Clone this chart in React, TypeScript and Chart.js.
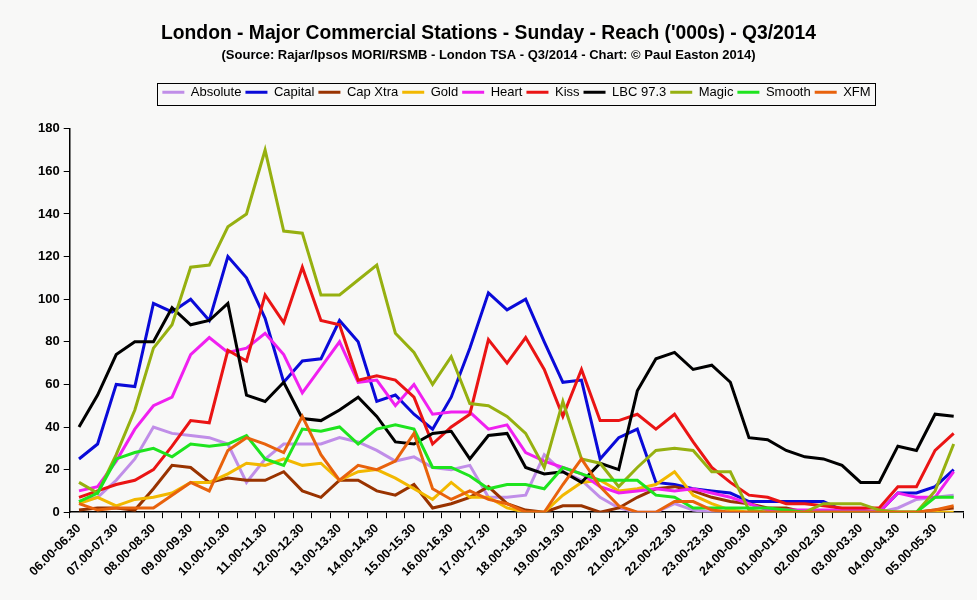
import { useEffect, useRef } from "react";
import { Chart, registerables } from "chart.js";

Chart.register(...registerables);

const slots = [
  "06.00-06.30", "06.30-07.00", "07.00-07.30", "07.30-08.00", "08.00-08.30", "08.30-09.00",
  "09.00-09.30", "09.30-10.00", "10.00-10.30", "10.30-11.00", "11.00-11.30", "11.30-12.00",
  "12.00-12.30", "12.30-13.00", "13.00-13.30", "13.30-14.00", "14.00-14.30", "14.30-15.00",
  "15.00-15.30", "15.30-16.00", "16.00-16.30", "16.30-17.00", "17.00-17.30", "17.30-18.00",
  "18.00-18.30", "18.30-19.00", "19.00-19.30", "19.30-20.00", "20.00-20.30", "20.30-21.00",
  "21.00-21.30", "21.30-22.00", "22.00-22.30", "22.30-23.00", "23.00-23.30", "23.30-24.00",
  "24.00-00.30", "00.30-01.00", "01.00-01.30", "01.30-02.00", "02.00-02.30", "02.30-03.00",
  "03.00-03.30", "03.30-04.00", "04.00-04.30", "04.30-05.00", "05.00-05.30", "05.30-06.00",
];

const absolute = [5, 7, 15, 25, 40, 37, 36, 35, 32, 14, 25, 32, 32, 32, 35, 33, 29, 24, 26, 21, 20, 22, 7, 7, 8, 27, 19, 15, 7, 2, 0, 0, 4, 1, 0, 0, 0, 0, 0, 0, 0, 0, 0, 0, 2, 6, 7, 8];
const capital = [25, 32, 60, 59, 98, 94, 100, 90, 120, 110, 91, 61, 71, 72, 90, 80, 52, 55, 46, 39, 54, 77, 103, 95, 100, 80, 61, 62, 25, 35, 39, 14, 13, 11, 10, 9, 5, 5, 5, 5, 5, 1, 0, 0, 9, 9, 12, 20];
const capXtra = [1, 2, 2, 1, 11, 22, 21, 14, 16, 15, 15, 19, 10, 7, 15, 15, 10, 8, 13, 2, 4, 7, 12, 4, 1, 0, 3, 3, 0, 2, 7, 11, 12, 10, 7, 5, 4, 2, 2, 0, 0, 0, 0, 0, 0, 0, 1, 2];
const gold = [4, 7, 3, 6, 7, 9, 14, 14, 18, 23, 22, 25, 22, 23, 15, 19, 20, 16, 11, 6, 14, 7, 7, 2, 0, 0, 8, 14, 15, 10, 11, 13, 19, 8, 4, 1, 0, 0, 0, 0, 0, 0, 0, 0, 0, 0, 0, 0];
const heart = [10, 12, 24, 39, 50, 54, 74, 82, 75, 77, 84, 74, 56, 68, 80, 61, 62, 50, 60, 46, 47, 47, 39, 41, 28, 24, 21, 18, 12, 9, 10, 11, 10, 11, 9, 7, 4, 1, 1, 1, 1, 1, 1, 0, 9, 7, 7, 19];
const kiss = [7, 10, 13, 15, 20, 31, 43, 42, 76, 71, 102, 89, 115, 90, 88, 62, 64, 62, 54, 32, 40, 46, 81, 70, 82, 67, 45, 67, 43, 43, 46, 39, 46, 33, 21, 14, 8, 7, 4, 4, 3, 2, 2, 2, 12, 12, 29, 37];
const lbc = [40, 55, 74, 80, 80, 96, 88, 90, 98, 55, 52, 61, 44, 43, 48, 54, 45, 33, 32, 37, 38, 25, 36, 37, 21, 18, 19, 14, 23, 20, 57, 72, 75, 67, 69, 61, 35, 34, 29, 26, 25, 22, 14, 14, 31, 29, 46, 45];
const magic = [14, 9, 27, 48, 77, 88, 115, 116, 134, 140, 170, 132, 131, 102, 102, 109, 116, 84, 75, 60, 73, 51, 50, 45, 37, 21, 52, 25, 23, 12, 21, 29, 30, 29, 19, 19, 1, 0, 0, 0, 4, 4, 4, 1, 0, 0, 10, 32];
const smooth = [5, 9, 25, 28, 30, 26, 32, 31, 32, 36, 25, 22, 39, 38, 40, 32, 39, 41, 39, 21, 21, 17, 11, 13, 13, 11, 21, 18, 15, 15, 15, 8, 7, 2, 2, 2, 2, 2, 1, 0, 0, 0, 0, 0, 0, 0, 7, 7];
const xfm = [4, 1, 2, 2, 2, 8, 14, 10, 29, 35, 32, 28, 45, 27, 15, 22, 20, 24, 37, 11, 6, 10, 6, 4, 0, 0, 13, 25, 12, 3, 0, 0, 5, 5, 1, 0, 0, 0, 0, 0, 0, 0, 0, 0, 0, 0, 1, 3];

const stations = ["Absolute", "Capital", "Cap Xtra", "Gold", "Heart", "Kiss", "LBC 97.3", "Magic", "Smooth", "XFM"];
const colors = ["#c08ee8", "#0a0ad8", "#993300", "#f2b800", "#f020f0", "#ea1414", "#000000", "#96b010", "#1ee41e", "#e8620c"];
const series = [absolute, capital, capXtra, gold, heart, kiss, lbc, magic, smooth, xfm];

const FONT = "'Liberation Sans', Arial, sans-serif";

// legend gets a frame and some room below it; titles and legend are nudged sideways like the original
const legendFrame = {
  id: "legendFrame",
  beforeInit(chart: any) {
    const fit = chart.legend.fit;
    chart.legend.fit = function () {
      fit.bind(chart.legend)();
      this.height += 20;
    };
  },
  afterLayout(chart: any) {
    for (const box of chart.boxes) {
      if (box === chart.legend) {
        box.left += 18;
        box.right += 18;
      } else if (box.position === "top" && box.options && typeof box.options.text === "string") {
        box.left -= 10;
        box.right -= 10;
      }
    }
  },
  afterDraw(chart: any) {
    const boxes = chart.legend?.legendHitBoxes;
    if (!boxes || !boxes.length) return;
    const left = Math.min(...boxes.map((b: any) => b.left)) - 5;
    const right = Math.max(...boxes.map((b: any) => b.left + b.width)) + 5;
    const top = boxes[0].top - 3;
    const bottom = boxes[0].top + boxes[0].height + 6;
    const ctx = chart.ctx;
    ctx.save();
    ctx.strokeStyle = "#000";
    ctx.lineWidth = 1;
    ctx.strokeRect(Math.round(left) + 0.5, Math.round(top) + 0.5, Math.round(right - left), Math.round(bottom - top));
    ctx.restore();
  },
};

export default function App() {
  const canvasRef = useRef<HTMLCanvasElement>(null);

  useEffect(() => {
    if (!canvasRef.current) return;

    const chart = new Chart(canvasRef.current, {
      type: "line",
      data: {
        labels: slots,
        datasets: series.map((values, i) => ({
          label: stations[i],
          data: values,
          borderColor: colors[i],
          backgroundColor: colors[i],
          borderWidth: 3,
          pointRadius: 0,
          pointStyle: "line",
          tension: 0,
          order: series.length - i,
        })),
      },
      options: {
        responsive: true,
        maintainAspectRatio: false,
        animation: false,
        layout: { padding: { top: 14, left: 34, right: 14, bottom: 18 } },
        plugins: {
          title: {
            display: true,
            text: "London - Major Commercial Stations - Sunday - Reach ('000s) - Q3/2014",
            color: "#000",
            font: { family: FONT, size: 19.3, weight: "bold" },
            padding: { top: 8, bottom: 2 },
          },
          subtitle: {
            display: true,
            text: "(Source: Rajar/Ipsos MORI/RSMB - London TSA - Q3/2014 - Chart: © Paul Easton 2014)",
            color: "#000",
            font: { family: FONT, size: 13, weight: "bold" },
            padding: { top: 0, bottom: 19 },
          },
          legend: {
            display: true,
            position: "top",
            labels: {
              color: "#000",
              font: { family: FONT, size: 13 },
              usePointStyle: true,
              pointStyleWidth: 22,
              boxHeight: 13,
              padding: 4,
              sort: (a: any, b: any) => a.datasetIndex - b.datasetIndex,
            },
          },
          tooltip: { enabled: false },
        },
        scales: {
          x: {
            offset: true,
            border: { color: "#000", width: 1.5 },
            grid: { display: true, offset: true, drawOnChartArea: false, color: "#000", tickLength: 6 },
            ticks: {
              autoSkip: false,
              maxRotation: 45,
              minRotation: 45,
              color: "#000",
              padding: 3,
              font: { family: FONT, size: 12.5, weight: "bold" },
              callback: (_v: any, idx: number) => (idx % 2 === 0 ? slots[idx] : ""),
            },
          },
          y: {
            min: 0,
            max: 180,
            border: { color: "#000", width: 1.5 },
            grid: { display: true, drawOnChartArea: false, color: "#000", tickLength: 6 },
            ticks: {
              stepSize: 20,
              color: "#000",
              padding: 4,
              font: { family: FONT, size: 13, weight: "bold" },
            },
          },
        },
      },
      plugins: [legendFrame],
    });

    return () => chart.destroy();
  }, []);

  return (
    <div style={{ position: "fixed", left: 0, top: 0, width: 977, height: 600, background: "#f8f8f7" }}>
      <canvas ref={canvasRef} />
    </div>
  );
}
